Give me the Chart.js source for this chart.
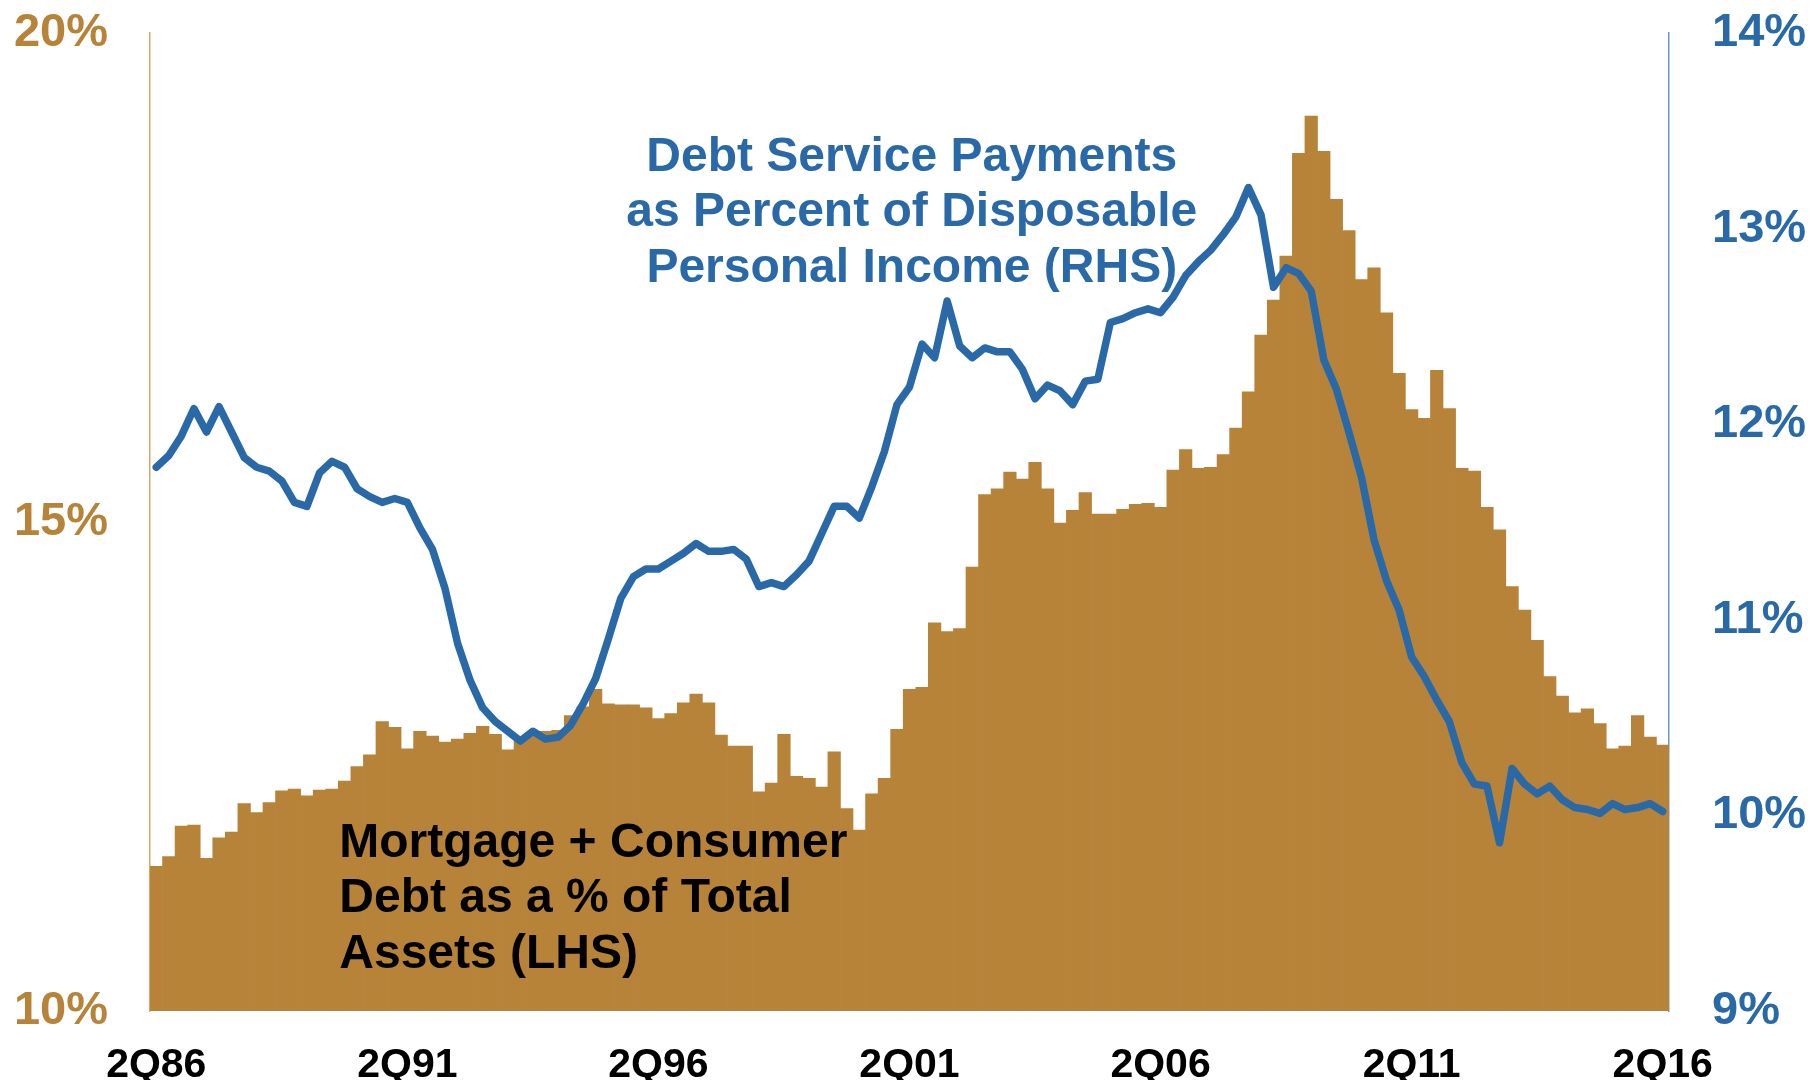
<!DOCTYPE html>
<html>
<head>
<meta charset="utf-8">
<title>Household debt and debt service</title>
<script src="https://cdn.jsdelivr.net/npm/chart.js@4.4.1/dist/chart.umd.min.js"></script>
<style>
  html, body { margin: 0; padding: 0; background: #ffffff; }
  canvas { display: block; }
</style>
</head>
<body>
<canvas id="chart" width="1811" height="1080"></canvas>
<script>
// Quarterly categories, 2Q86 through 2Q16
const quarters = [];
for (let y = 1986; y <= 2016; y++) {
  for (let q = 1; q <= 4; q++) {
    if ((y === 1986 && q < 2) || (y === 2016 && q > 2)) continue;
    quarters.push(q + 'Q' + String(y).slice(2));
  }
}

// Labels shown along the bottom axis
const xTickLabels = ['2Q86', '2Q91', '2Q96', '2Q01', '2Q06', '2Q11', '2Q16'];

// Mortgage + consumer debt as a % of total assets (left axis)
const debtToAssets = [
  11.48, 11.58, 11.89, 11.90, 11.56, 11.77, 11.83, 12.12, 12.03, 12.13,
  12.25, 12.27, 12.20, 12.26, 12.27, 12.35, 12.50, 12.62, 12.96, 12.90,
  12.68, 12.86, 12.81, 12.75, 12.78, 12.84, 12.91, 12.83, 12.67, 12.77,
  12.82, 12.86, 12.87, 13.02, 13.11, 13.29, 13.14, 13.13, 13.13, 13.10,
  12.99, 13.04, 13.15, 13.24, 13.15, 12.82, 12.71, 12.71, 12.24, 12.33,
  12.83, 12.40, 12.38, 12.29, 12.65, 12.07, 11.85, 12.22, 12.38, 12.88,
  13.29, 13.31, 13.97, 13.88, 13.91, 14.54, 15.28, 15.34, 15.51, 15.44,
  15.61, 15.34, 14.99, 15.12, 15.30, 15.08, 15.08, 15.13, 15.18, 15.19,
  15.15, 15.53, 15.74, 15.55, 15.56, 15.69, 15.96, 16.33, 16.91, 17.27,
  17.72, 18.77, 19.15, 18.79, 18.30, 17.98, 17.48, 17.60, 17.14, 16.52,
  16.15, 16.06, 16.55, 16.16, 15.55, 15.52, 15.15, 14.92, 14.34, 14.10,
  13.79, 13.42, 13.22, 13.05, 13.09, 12.94, 12.68, 12.71, 13.02, 12.80,
  12.72
];

// Debt service payments as a % of disposable personal income (right axis)
const debtServiceRatio = [
  11.78, 11.84, 11.94, 12.08, 11.96, 12.09, 11.96, 11.83, 11.78, 11.76,
  11.71, 11.60, 11.58, 11.75, 11.81, 11.78, 11.67, 11.63, 11.60, 11.62,
  11.60, 11.47, 11.36, 11.16, 10.88, 10.69, 10.55, 10.48, 10.43, 10.38,
  10.43, 10.39, 10.40, 10.46, 10.57, 10.70, 10.90, 11.11, 11.22, 11.26,
  11.26, 11.30, 11.34, 11.39, 11.35, 11.35, 11.36, 11.31, 11.17, 11.19,
  11.17, 11.23, 11.30, 11.44, 11.58, 11.58, 11.52, 11.68, 11.86, 12.10,
  12.19, 12.41, 12.34, 12.63, 12.40, 12.34, 12.39, 12.37, 12.37, 12.28,
  12.13, 12.20, 12.17, 12.10, 12.22, 12.23, 12.52, 12.54, 12.57, 12.59,
  12.57, 12.65, 12.76, 12.83, 12.89, 12.97, 13.06, 13.21, 13.07, 12.70,
  12.80, 12.77, 12.68, 12.33, 12.18, 11.96, 11.73, 11.41, 11.20, 11.05,
  10.81, 10.71, 10.59, 10.48, 10.27, 10.16, 10.15, 9.86, 10.24, 10.16,
  10.11, 10.15, 10.08, 10.04, 10.03, 10.01, 10.06, 10.03, 10.04, 10.06,
  10.02
];

// Axis ranges
const leftAxisRange = [10, 20];
const rightAxisRange = [9, 14];

// Series captions
const lineCaption = ['Debt Service Payments', 'as Percent of Disposable', 'Personal Income (RHS)'];
const barCaption = ['Mortgage + Consumer', 'Debt as a % of Total', 'Assets (LHS)'];

const GOLD = '#B68338';
const GOLD_AXIS = '#D9A866';
const BLUE = '#2A69A8';
const BLUE_AXIS = '#6D97C6';
const FONT = '"Liberation Sans", Arial, Helvetica, sans-serif';

Chart.defaults.font.family = FONT;
Chart.defaults.font.weight = 'bold';

const captions = {
  id: 'captions',
  afterDatasetsDraw(chart) {
    const { ctx, chartArea: a } = chart;
    const w = a.right - a.left;
    ctx.save();
    ctx.font = 'bold 48px ' + FONT;
    ctx.textBaseline = 'alphabetic';

    ctx.fillStyle = BLUE;
    ctx.textAlign = 'center';
    const cx = a.left + w * 0.5015;
    lineCaption.forEach((t, i) => ctx.fillText(t, cx, 170.5 + i * 55.5));

    ctx.fillStyle = '#000000';
    ctx.textAlign = 'left';
    const lx = a.left + w * 0.1246;
    barCaption.forEach((t, i) => ctx.fillText(t, lx, 856.5 + i * 55.5));
    ctx.restore();
  }
};

// Vertical axes: fixed width, and no extra head-room reserved for the end labels
function fixVerticalAxis(width) {
  return function (scale) {
    scale.width = width;
    scale.paddingTop = 0;
    scale.paddingBottom = 0;
  };
}

new Chart(document.getElementById('chart'), {
  type: 'bar',
  data: {
    labels: quarters,
    datasets: [
      {
        type: 'line',
        label: lineCaption.join(' '),
        data: debtServiceRatio,
        yAxisID: 'yR',
        borderColor: BLUE,
        backgroundColor: BLUE,
        borderWidth: 7.5,
        pointRadius: 0,
        tension: 0,
        borderJoinStyle: 'round',
        borderCapStyle: 'round',
        order: 0
      },
      {
        type: 'bar',
        label: barCaption.join(' '),
        data: debtToAssets,
        yAxisID: 'yL',
        backgroundColor: GOLD,
        borderWidth: 0,
        barPercentage: 1.0,
        categoryPercentage: 1.0,
        order: 1
      }
    ]
  },
  options: {
    responsive: false,
    animation: false,
    devicePixelRatio: 1,
    layout: { padding: { top: 33, left: 0, right: 0, bottom: 0 } },
    plugins: {
      legend: { display: false },
      tooltip: { enabled: false },
      title: { display: false }
    },
    scales: {
      x: {
        type: 'category',
        offset: true,
        grid: { display: false, drawTicks: false },
        border: { display: false },
        ticks: {
          autoSkip: false,
          maxRotation: 0,
          minRotation: 0,
          padding: 30,
          color: '#000000',
          font: { size: 41, weight: 'bold' },
          callback(value, index) {
            const lab = quarters[index];
            return xTickLabels.includes(lab) ? lab : '';
          }
        },
        afterFit(scale) { scale.height = 69; }
      },
      yL: {
        type: 'linear',
        position: 'left',
        min: leftAxisRange[0],
        max: leftAxisRange[1],
        grid: { display: false, drawTicks: false },
        border: { display: true, color: GOLD_AXIS, width: 1.5 },
        ticks: {
          stepSize: 5,
          padding: 42,
          color: GOLD,
          font: { size: 47, weight: 'bold' },
          callback: v => v + '%'
        },
        afterFit: fixVerticalAxis(150)
      },
      yR: {
        type: 'linear',
        position: 'right',
        min: rightAxisRange[0],
        max: rightAxisRange[1],
        grid: { display: false, drawTicks: false },
        border: { display: true, color: BLUE_AXIS, width: 1.5 },
        ticks: {
          stepSize: 1,
          padding: 43,
          color: BLUE,
          font: { size: 47, weight: 'bold' },
          callback: v => v + '%'
        },
        afterFit: fixVerticalAxis(142)
      }
    }
  },
  plugins: [captions]
});
</script>
</body>
</html>
